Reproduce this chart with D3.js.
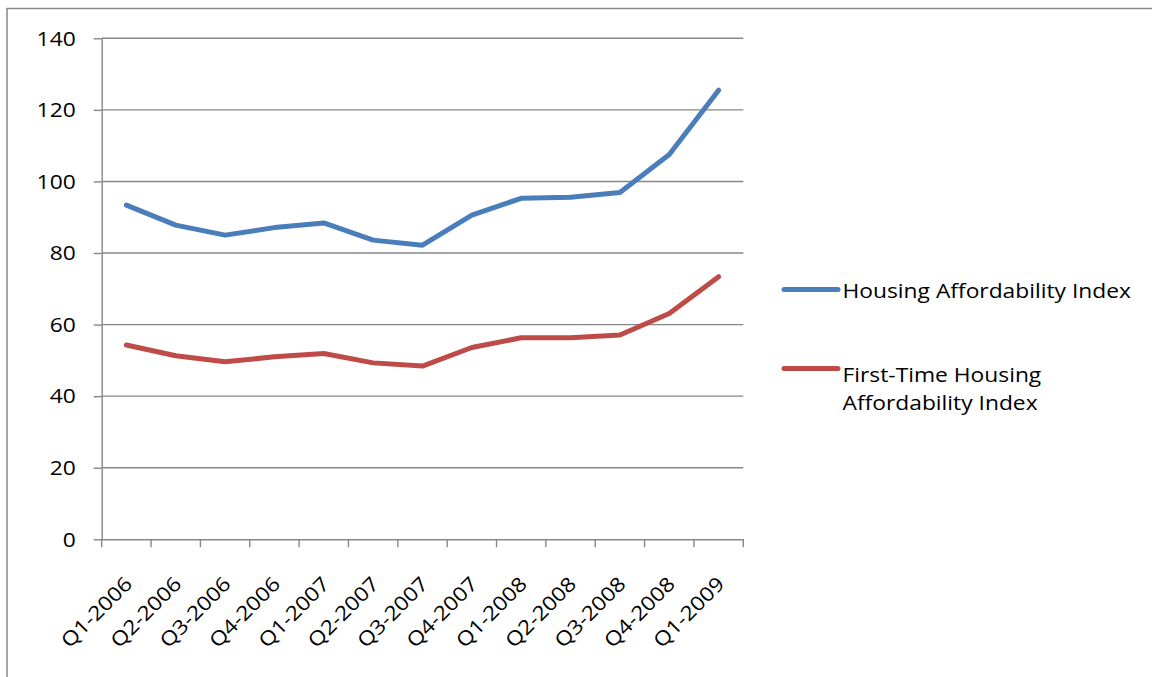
<!DOCTYPE html>
<html>
<head>
<meta charset="utf-8">
<script src="https://cdn.jsdelivr.net/npm/d3@7"></script>
<style>
  html, body { margin: 0; padding: 0; background: #fff; }
  svg { display: block; }
  text { font-family: "Open Sans", "Liberation Sans", sans-serif; fill: #000; }
</style>
</head>
<body>
<svg id="chart" width="1152" height="677"></svg>
<script>
const categories = ["Q1-2006","Q2-2006","Q3-2006","Q4-2006","Q1-2007","Q2-2007","Q3-2007","Q4-2007","Q1-2008","Q2-2008","Q3-2008","Q4-2008","Q1-2009"];
const housingIndex = [93.4, 87.8, 85.0, 87.1, 88.4, 83.6, 82.2, 90.6, 95.3, 95.6, 96.9, 107.5, 125.5];
const firstTimeIndex = [54.3, 51.3, 49.6, 51.0, 51.9, 49.3, 48.4, 53.6, 56.3, 56.3, 57.1, 63.1, 73.4];
const yTicks = [0, 20, 40, 60, 80, 100, 120, 140];
const seriesNames = ["Housing Affordability Index", "First-Time Housing Affordability Index"];
const seriesColors = ["#4A7EBB", "#BE4B48"];

const svg = d3.select("#chart");
const W = 1152, H = 677;
const plot = { left: 101.7, right: 743.3, top: 38.3, bottom: 539.3 };
const gridColor = "#878787";
const fontSize = 20;
const sx = 1.14;

// outer frame
svg.append("rect")
  .attr("x", 7).attr("y", 8.5)
  .attr("width", W + 20).attr("height", H + 20)
  .attr("fill", "none").attr("stroke", gridColor).attr("stroke-width", 1.5);

const x = d3.scaleBand().domain(categories).range([plot.left, plot.right]).padding(0);
const y = d3.scaleLinear().domain([0, 140]).range([plot.bottom, plot.top]);

// gridlines
svg.append("g")
  .selectAll("line")
  .data(yTicks.filter(t => t > 0))
  .join("line")
  .attr("x1", plot.left).attr("x2", plot.right)
  .attr("y1", d => y(d)).attr("y2", d => y(d))
  .attr("stroke", gridColor).attr("stroke-width", 1.4);

// y axis
const yAxis = d3.axisLeft(y).tickValues(yTicks).tickSize(8).tickSizeOuter(0);
const gy = svg.append("g").attr("transform", `translate(${plot.left},0)`).call(yAxis);
gy.select(".domain").attr("stroke", gridColor).attr("stroke-width", 1.4);
gy.selectAll(".tick line").attr("stroke", gridColor).attr("stroke-width", 1.4);
gy.selectAll(".tick text")
  .style("font-size", fontSize + "px").style("font-family", '"Open Sans", sans-serif').attr("fill", "#000")
  .attr("x", -26 / sx).attr("dy", "0.34em")
  .attr("transform", `scale(${sx},1)`);

// x axis
const xAxis = d3.axisBottom(x).tickSize(0).tickSizeOuter(0);
const gx = svg.append("g").attr("transform", `translate(0,${plot.bottom})`).call(xAxis);
gx.select(".domain").attr("stroke", gridColor).attr("stroke-width", 1.4);
// tick marks at band boundaries
const boundaries = categories.map(c => x(c)).concat([x(categories[categories.length - 1]) + x.bandwidth()]);
gx.append("g").selectAll("line").data(boundaries).join("line")
  .attr("x1", d => d).attr("x2", d => d).attr("y1", 0).attr("y2", 8)
  .attr("stroke", gridColor).attr("stroke-width", 1.4);
gx.selectAll(".tick text")
  .style("font-size", fontSize + "px").style("font-family", '"Open Sans", sans-serif').attr("fill", "#000")
  .attr("text-anchor", "end")
  .attr("dy", 0).attr("y", 0)
  .attr("transform", `translate(7,46) rotate(-45) scale(${sx},1)`);

// lines
const line = d3.line().x((d, i) => x(categories[i]) + x.bandwidth() / 2).y(d => y(d));
[housingIndex, firstTimeIndex].forEach((s, k) => {
  svg.append("path").datum(s)
    .attr("d", line)
    .attr("fill", "none")
    .attr("stroke", seriesColors[k])
    .attr("stroke-width", 5)
    .attr("stroke-linejoin", "round")
    .attr("stroke-linecap", "round");
});

// legend
const legend = svg.append("g");
const legendItems = [
  { name: seriesNames[0], lines: ["Housing Affordability Index"], y: 289.5, base: 298.3 },
  { name: seriesNames[1], lines: ["First-Time Housing", "Affordability Index"], y: 368.5, base: 381.6 }
];
legendItems.forEach((it, k) => {
  legend.append("line")
    .attr("x1", 784).attr("x2", 838).attr("y1", it.y).attr("y2", it.y)
    .attr("stroke", seriesColors[k]).attr("stroke-width", 5).attr("stroke-linecap", "round");
  const t = legend.append("text")
    .attr("transform", `translate(842.5,${it.base}) scale(${sx},1)`)
    .style("font-size", fontSize + "px");
  it.lines.forEach((ln, j) => {
    t.append("tspan").attr("x", 0).attr("y", j * 28.5).text(ln);
  });
});
</script>
</body>
</html>
